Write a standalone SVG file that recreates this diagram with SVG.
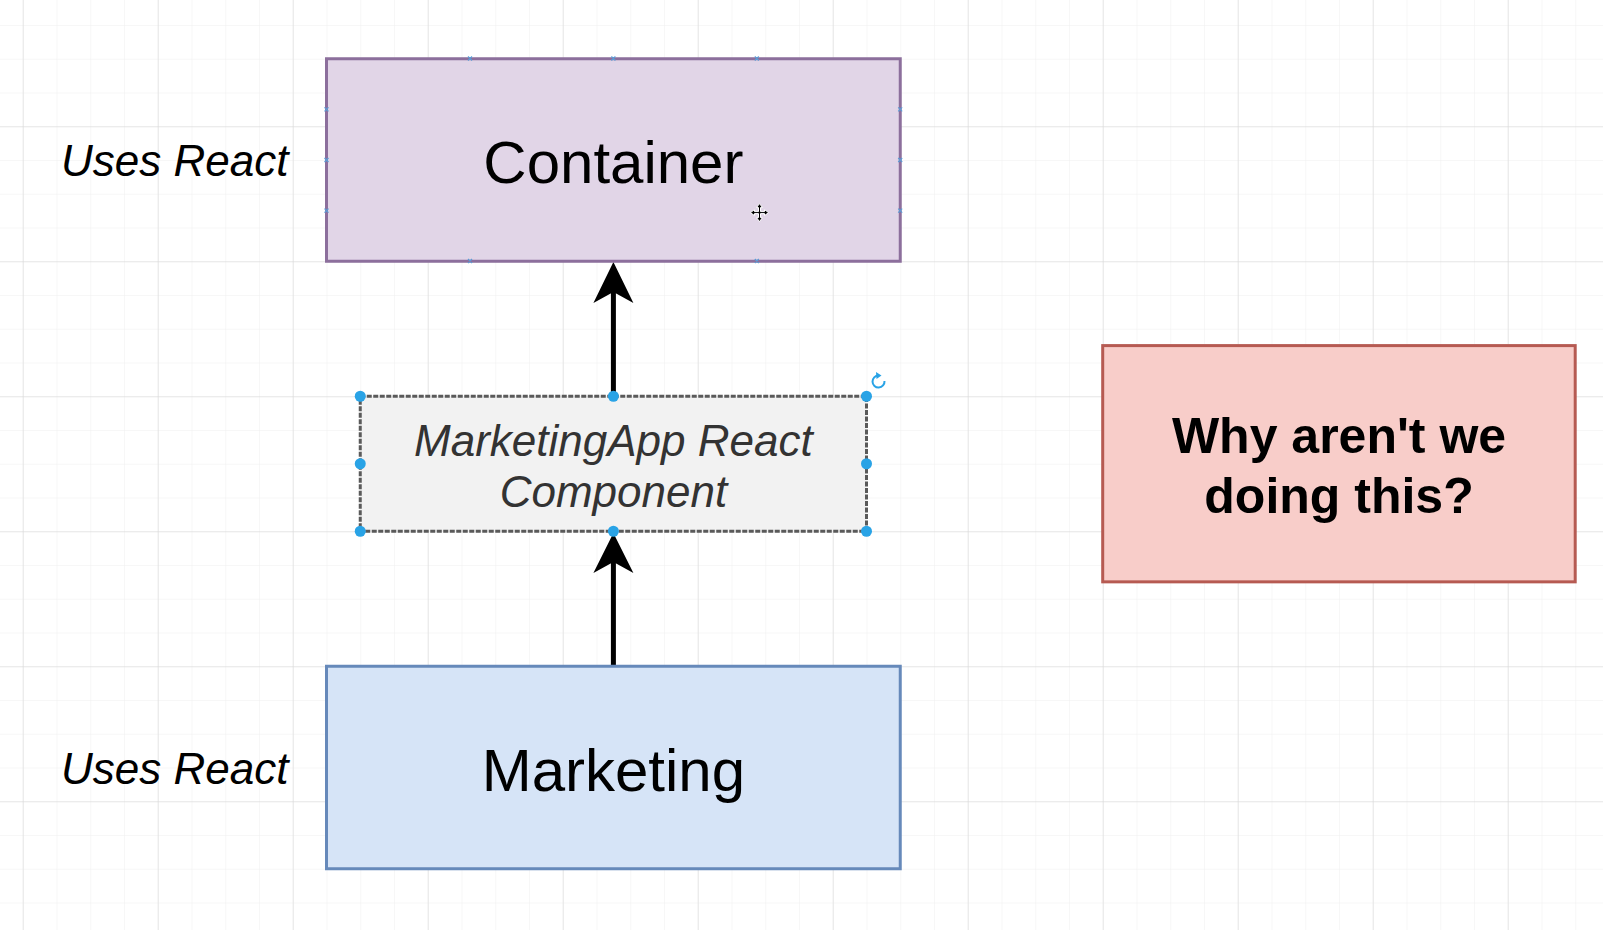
<svg xmlns="http://www.w3.org/2000/svg" width="1603" height="930" viewBox="0 0 1603 930">
<defs>
<pattern id="minor" x="22.7" y="25" width="33.75" height="33.75" patternUnits="userSpaceOnUse">
<path d="M0,0 V33.75 M0,0 H33.75" fill="none" stroke="#efefef" stroke-width="1"/>
</pattern>
<pattern id="major" x="22.7" y="-8.75" width="135" height="135" patternUnits="userSpaceOnUse">
<path d="M0,0 V135 M0,0 H135" fill="none" stroke="#d6d6d6" stroke-width="1"/>
</pattern>
</defs>
<style>
.lbl{font-family:"Liberation Sans",Arial,sans-serif;}
.big{font-size:60px;fill:#000;text-anchor:middle;}
.it{font-style:italic;font-size:44px;}
.bold{font-weight:bold;font-size:50px;fill:#000;text-anchor:middle;}
.handle{fill:#29a3e6;}
.cp{stroke:#5b9bd5;stroke-width:1.2;fill:none;}
</style>
<rect width="1603" height="930" fill="#ffffff"/>
<rect width="1603" height="930" fill="url(#minor)"/>
<rect width="1603" height="930" fill="url(#major)"/>

<g id="connectors">
<line x1="613.4" y1="396" x2="613.4" y2="292" stroke="#000" stroke-width="5"/>
<path d="M613.4,262 L593.4,303 L613.4,292 L633.4,303 Z" fill="#000"/>
<line x1="613.4" y1="666" x2="613.4" y2="562" stroke="#000" stroke-width="5"/>
<path d="M613.4,533 L593.4,573 L613.4,562 L633.4,573 Z" fill="#000"/>
</g>

<g id="container">
<rect x="326.5" y="58.75" width="573.75" height="202.5" fill="#e1d5e7" stroke="#8c6f9c" stroke-width="3"/>
<text class="lbl big" x="613.4" y="183">Container</text>
<g class="cp">
<path d="M468,56.5 l4,4 m0,-4 l-4,4 M611.4,56.5 l4,4 m0,-4 l-4,4 M754.8,56.5 l4,4 m0,-4 l-4,4"/>
<path d="M468,259 l4,4 m0,-4 l-4,4 M754.8,259 l4,4 m0,-4 l-4,4"/>
<path d="M324.5,107.4 l4,4 m0,-4 l-4,4 M324.5,158 l4,4 m0,-4 l-4,4 M324.5,208.6 l4,4 m0,-4 l-4,4"/>
<path d="M898.2,107.4 l4,4 m0,-4 l-4,4 M898.2,158 l4,4 m0,-4 l-4,4 M898.2,208.6 l4,4 m0,-4 l-4,4"/>
</g>
<g transform="translate(759.5,212.6)">
<path d="M0,-9 L-3,-5 L-1,-5 L-1,-1 L-5,-1 L-5,-3 L-9,0 L-5,3 L-5,1 L-1,1 L-1,5 L-3,5 L0,9 L3,5 L1,5 L1,1 L5,1 L5,3 L9,0 L5,-3 L5,-1 L1,-1 L1,-5 L3,-5 Z" fill="#000" stroke="#fff" stroke-width="1"/>
</g>
</g>

<g id="marketingapp">
<rect x="360.25" y="396.25" width="506.25" height="135" fill="#f2f2f2" stroke="#5a5a5a" stroke-width="3" stroke-dasharray="5,1.5"/>
<text class="lbl it" x="613.4" y="456" text-anchor="middle" fill="#333333">MarketingApp React</text>
<text class="lbl it" x="613.4" y="507" text-anchor="middle" fill="#333333">Component</text>
<circle class="handle" cx="360.25" cy="396.25" r="5.5"/>
<circle class="handle" cx="613.4" cy="396.25" r="5.5"/>
<circle class="handle" cx="866.5" cy="396.25" r="5.5"/>
<circle class="handle" cx="360.25" cy="463.75" r="5.5"/>
<circle class="handle" cx="866.5" cy="463.75" r="5.5"/>
<circle class="handle" cx="360.25" cy="531.25" r="5.5"/>
<circle class="handle" cx="613.4" cy="531.25" r="5.5"/>
<circle class="handle" cx="866.5" cy="531.25" r="5.5"/>
<path d="M884.5,381 A6,6 0 1 1 878.5,375.5" fill="none" stroke="#29a3e6" stroke-width="2"/>
<path d="M876,372 L881.5,375.5 L876.5,379 Z" fill="#29a3e6"/>
</g>

<g id="marketing">
<rect x="326.5" y="666.25" width="573.75" height="202.5" fill="#d6e4f7" stroke="#6689ba" stroke-width="3"/>
<text class="lbl big" x="613.4" y="791">Marketing</text>
</g>

<g id="uses-react-1">
<text class="lbl it" x="61" y="176" fill="#000">Uses React</text>
</g>
<g id="uses-react-2">
<text class="lbl it" x="61" y="784" fill="#000">Uses React</text>
</g>

<g id="why">
<rect x="1102.7" y="345.6" width="472.5" height="236.25" fill="#f8cdc9" stroke="#b65a52" stroke-width="3"/>
<text class="lbl bold" x="1339" y="453">Why aren't we</text>
<text class="lbl bold" x="1339" y="513">doing this?</text>
</g>
</svg>
